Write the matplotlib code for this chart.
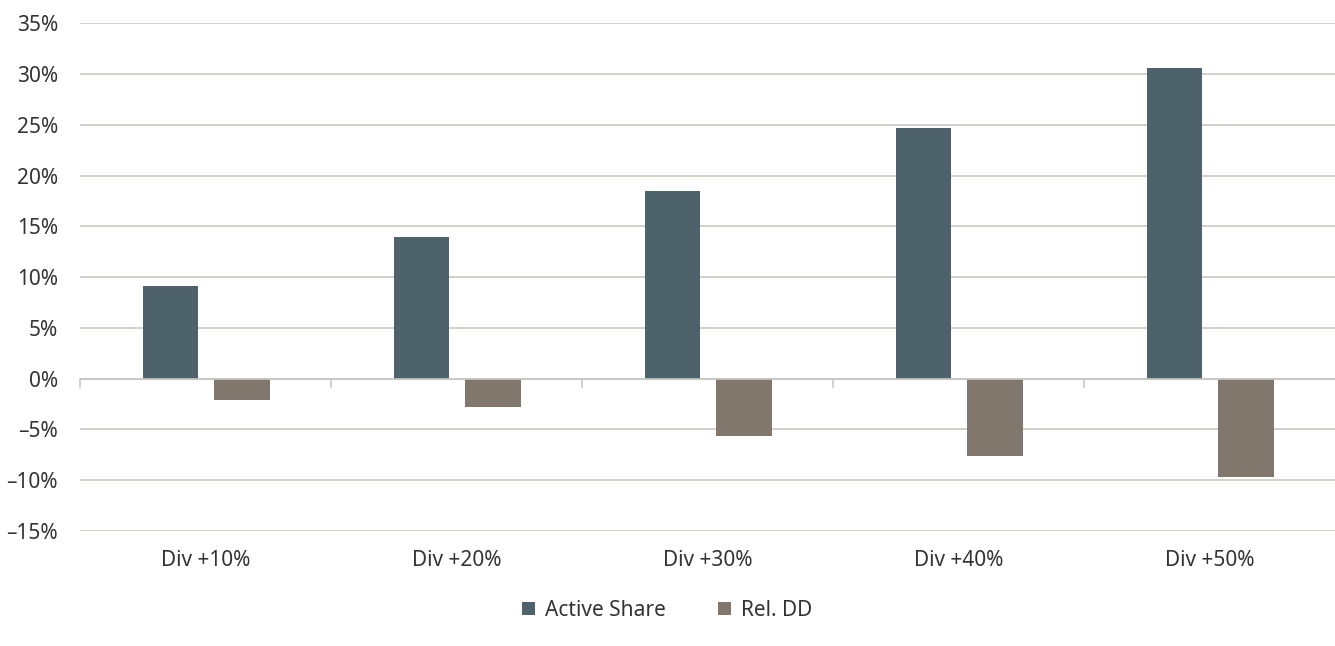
import numpy as np
import matplotlib.pyplot as plt

categories = ["Div +10%", "Div +20%", "Div +30%", "Div +40%", "Div +50%"]
active_share = [9.1, 14.0, 18.5, 24.7, 30.6]
rel_dd = [-2.1, -2.8, -5.6, -7.6, -9.7]
yticks = list(range(-15, 40, 5))

plt.rcParams['font.family'] = ['Noto Sans', 'DejaVu Sans']

fig = plt.figure(figsize=(13.35, 6.46), dpi=100)
ax = fig.add_axes([0.06, 0.178, 0.94, 0.786])

x = np.arange(len(categories))
ax.bar(x - 0.14, active_share, 0.22, color="#4d626b", label="Active Share", zorder=3)
ax.bar(x + 0.145, rel_dd, 0.22, color="#82776c", label="Rel. DD", zorder=3)

ax.set_xlim(-0.5, len(categories) - 0.5)
ax.set_ylim(-15, 35)
ax.set_yticks(yticks)
ax.set_yticklabels([f"{v}%".replace("-", "\u2013") for v in yticks], fontsize=15, color="#333333")
ax.set_xticks(x)
ax.set_xticklabels(categories, fontsize=15, color="#333333")
ax.tick_params(axis="x", length=0, pad=14)
ax.tick_params(axis="y", length=0, pad=16)

ax.grid(axis="y", color="#c8c8c0", linewidth=1.2, zorder=0)
for s in ax.spines.values():
    s.set_visible(False)
ax.axhline(0, color="#c8c8c0", linewidth=1.2, zorder=4)
for b in np.arange(-0.5, len(categories) - 1, 1.0):
    ax.plot([b, b], [0, -0.8], color="#c8c8c0", linewidth=1.2, zorder=4, clip_on=False)

fig.legend(loc="center", bbox_to_anchor=(0.5, 0.055), ncol=2, frameon=False,
           fontsize=15, handlelength=0.6, handleheight=0.6, handletextpad=0.5,
           columnspacing=2.5, labelcolor="#333333")

fig.savefig("out.png", dpi=100)
